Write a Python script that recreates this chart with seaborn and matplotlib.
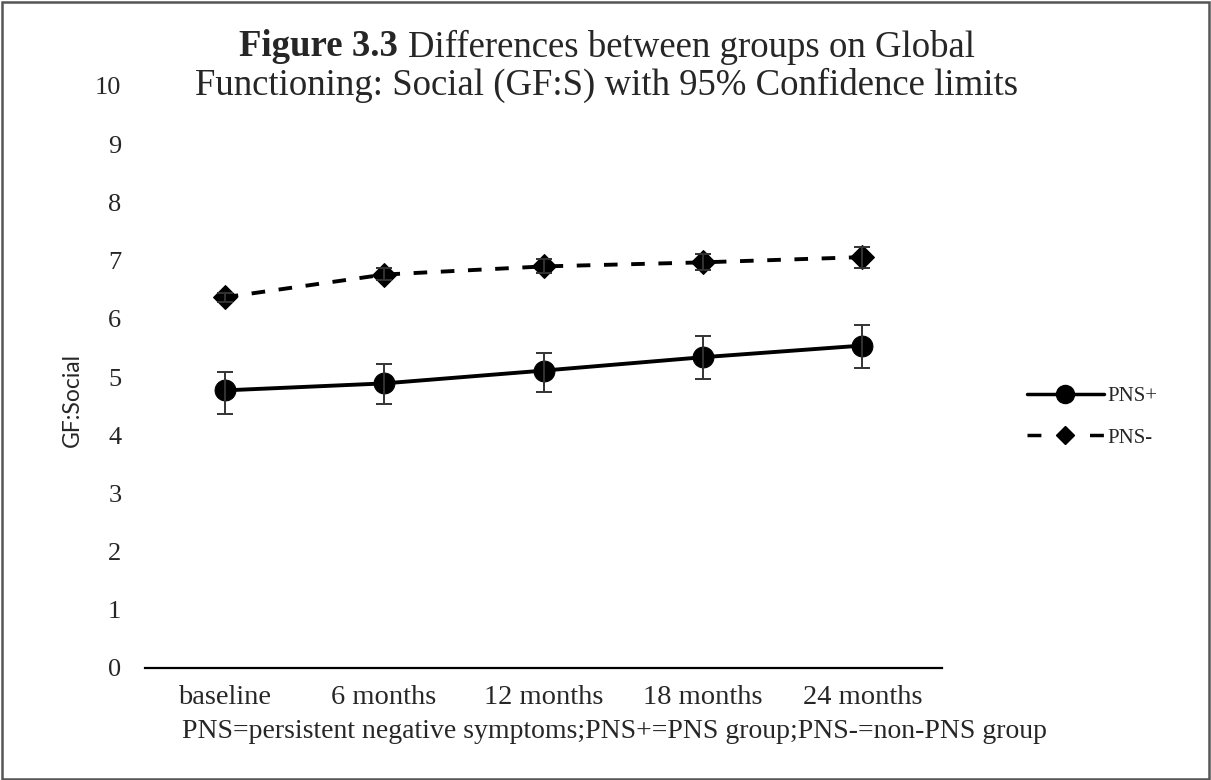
import matplotlib
matplotlib.use("Agg")
import matplotlib.pyplot as plt
import seaborn as sns
import pandas as pd
from matplotlib.lines import Line2D
from matplotlib.patches import Rectangle

# ---- data ----
timepoints = ["baseline", "6 months", "12 months", "18 months", "24 months"]
pns_pos = [4.77, 4.89, 5.11, 5.34, 5.54]
pns_pos_lo = [4.37, 4.54, 4.75, 4.96, 5.15]
pns_pos_hi = [5.08, 5.23, 5.42, 5.70, 5.90]
pns_neg = [6.37, 6.76, 6.90, 6.97, 7.06]
pns_neg_lo = [6.29, 6.66, 6.78, 6.84, 6.88]
pns_neg_hi = [6.45, 6.87, 7.03, 7.11, 7.23]
series_names = ["PNS+", "PNS-"]
yticks = list(range(0, 11))

sns.set_theme(style="white")
plt.rcParams["font.family"] = ["Liberation Serif", "DejaVu Serif"]

fig = plt.figure(figsize=(12.11, 7.8), dpi=100)
ax = fig.add_axes([145 / 1211, 1 - 668 / 780, (942 - 145) / 1211, (668 - 86) / 780])

x = list(range(len(timepoints)))
df = pd.DataFrame({
    "x": x * 2,
    "value": pns_pos + pns_neg,
    "group": [series_names[0]] * len(x) + [series_names[1]] * len(x),
})

sns.lineplot(data=df[df.group == "PNS+"], x="x", y="value", ax=ax, color="black",
             linewidth=2.8, marker="o", markersize=15, markeredgecolor="black",
             legend=False, zorder=3)
sns.lineplot(data=df[df.group == "PNS-"], x="x", y="value", ax=ax, color="black",
             linewidth=2.8, linestyle=(0, (3.5, 3.5)), marker="D", markersize=12,
             markeredgecolor="black", legend=False, zorder=3)

for vals, lo, hi in [(pns_pos, pns_pos_lo, pns_pos_hi), (pns_neg, pns_neg_lo, pns_neg_hi)]:
    yerr = [[v - l for v, l in zip(vals, lo)], [h - v for v, h in zip(vals, hi)]]
    ax.errorbar(x, vals, yerr=yerr, fmt="none", ecolor="#333333", elinewidth=1.4,
                capsize=6, capthick=1.4, zorder=4)

ax.set_xlim(-0.5, 4.5)
ax.set_ylim(0, 10)
ax.set_yticks(yticks)
ax.set_yticklabels([str(t) for t in yticks], fontsize=19)
ax.set_xticks(x)
ax.set_xticklabels(timepoints, fontsize=20.5)
ax.tick_params(axis="y", length=0, pad=17)
ax.tick_params(axis="x", length=0, pad=12)
for s in ["top", "right", "left"]:
    ax.spines[s].set_visible(False)
ax.spines["bottom"].set_color("black")
ax.spines["bottom"].set_linewidth(1.6)
ax.set_xlabel("")
ax.set_ylabel("GF:Social", fontsize=16.5, family=["Lato", "DejaVu Sans"])
ax.yaxis.set_label_coords(72 / 1211, 1 - 400 / 780, transform=fig.transFigure)
ax.yaxis.label.set_va("center")
ax.grid(False)

# legend
handles = [
    Line2D([], [], color="black", linewidth=2.5, marker="o", markersize=13),
    Line2D([], [], color="black", linewidth=2.5, linestyle=(0, (4.0, 5.0)), marker="D", markersize=9),
]
fig.legend(handles, series_names, loc="center left", bbox_to_anchor=(1008 / 1211, 1 - 417 / 780),
           frameon=False, handlelength=3.7, handletextpad=0.15, labelspacing=1.05,
           prop={"family": "Liberation Serif", "size": 15})

# footnote
fig.text(615 / 1211, 1 - 731 / 780, "PNS=persistent negative symptoms;PNS+=PNS group;PNS-=non-PNS group",
         ha="center", va="center", fontsize=20)

# title (bold prefix + regular rest on first line)
fig.canvas.draw()
r = fig.canvas.get_renderer()
tsize = 26.5
t1a = fig.text(0, 1 - 47 / 780, "Figure 3.3 ", fontsize=tsize, fontweight="bold", va="center")
t1b = fig.text(0, 1 - 47 / 780, "Differences between groups on Global", fontsize=tsize, va="center")
wa = t1a.get_window_extent(r).width
wb = t1b.get_window_extent(r).width
x0 = 607 - (wa + wb) / 2
t1a.set_x(x0 / 1211)
t1b.set_x((x0 + wa) / 1211)
fig.text(607 / 1211, 1 - 85 / 780, "Functioning: Social (GF:S) with 95% Confidence limits",
         fontsize=tsize, ha="center", va="center")

fig.patches.append(Rectangle((0.002, 0.001), 0.996, 0.997, transform=fig.transFigure,
                             fill=False, edgecolor="#555555", linewidth=1.8))

fig.savefig("out.png", dpi=100)
